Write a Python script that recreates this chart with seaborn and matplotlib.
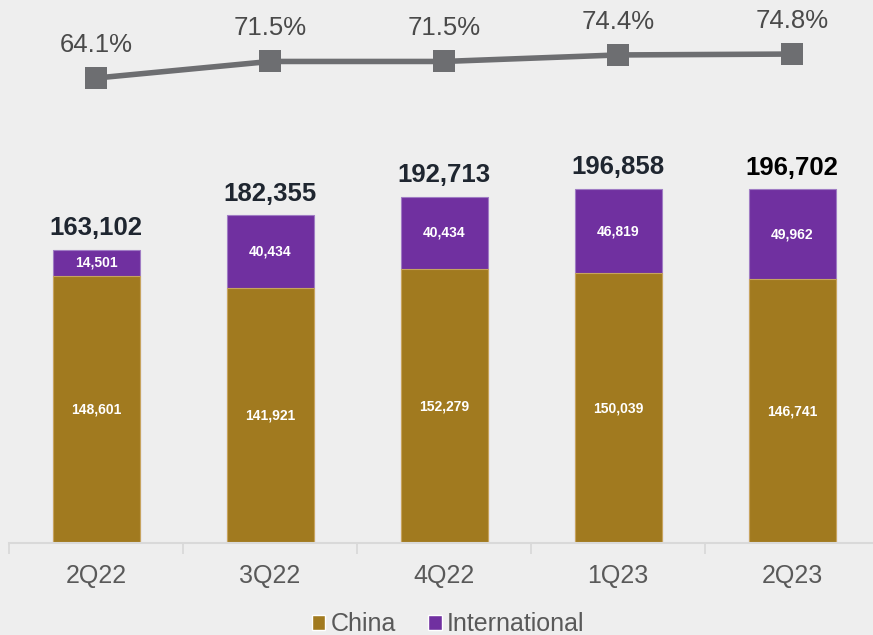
import numpy as np
import pandas as pd
import matplotlib
matplotlib.use("Agg")
import matplotlib.pyplot as plt
from matplotlib.patches import Patch
import seaborn as sns

# Quarterly revenue split (RMB thousand) and margin line
quarters = ["2Q22", "3Q22", "4Q22", "1Q23", "2Q23"]
china = [148601, 141921, 152279, 150039, 146741]
international = [14501, 40434, 40434, 46819, 49962]
totals = [163102, 182355, 192713, 196858, 196702]
margin_pct = [64.1, 71.5, 71.5, 74.4, 74.8]

GOLD = "#A17A1F"
PURPLE = "#7030A0"
LINE_GREY = "#6D6E71"
BG = "#EEEEEE"

sns.set_theme(style="white")
plt.rcParams["font.family"] = ["Liberation Sans", "DejaVu Sans"]

df = pd.DataFrame({"quarter": quarters, "china": china,
                   "international": international, "total": totals})

fig = plt.figure(figsize=(8.73, 6.35), dpi=100, facecolor=BG)
ax = fig.add_axes([9 / 873, 1 - 543 / 635, 870 / 873, 543 / 635])
ax.set_facecolor(BG)

# Stacked bars: full height in purple, China portion drawn over it in gold
sns.barplot(data=df, x="quarter", y="total", color=PURPLE, width=0.5,
            saturation=1, edgecolor="#A07CC4", linewidth=0.8, ax=ax)
sns.barplot(data=df, x="quarter", y="china", color=GOLD, width=0.5,
            saturation=1, edgecolor="#C7A45E", linewidth=0.8, ax=ax)

ax.set_ylim(0, 302100)
ax.set_xlim(-0.5, 4.5)
ax.set_xlabel("")
ax.set_ylabel("")
ax.set_yticks([])
for side in ["top", "right", "left"]:
    ax.spines[side].set_visible(False)
ax.spines["bottom"].set_color("#D9D9D9")
ax.spines["bottom"].set_linewidth(1.5)

ax.set_xticks(range(len(quarters)))
ax.set_xticklabels(quarters)
ax.tick_params(axis="x", which="major", bottom=True, length=0, pad=15,
               labelsize=18, labelcolor="#595959")
ax.set_xticks(np.arange(-0.5, len(quarters)), minor=True)
ax.tick_params(axis="x", which="minor", bottom=True, length=8, width=1.3,
               color="#D9D9D9", direction="out")

# Segment and total labels
for i in range(len(quarters)):
    ax.text(i, china[i] / 2, f"{china[i]:,}", ha="center", va="center",
            color="white", fontsize=10, fontweight="bold")
    ax.text(i, china[i] + international[i] / 2, f"{international[i]:,}",
            ha="center", va="center", color="white", fontsize=10,
            fontweight="bold")
    ax.annotate(f"{totals[i]:,}", xy=(i, china[i] + international[i]),
                xytext=(0, 7), textcoords="offset points", ha="center",
                va="bottom", fontsize=18.5, fontweight="bold",
                color="#000000" if i == len(quarters) - 1 else "#1F2630")

# Margin line on its own scale
ax2 = ax.twinx()
ax2.set_ylim(-143.2, 98.9)
sns.lineplot(x=np.arange(len(quarters)), y=margin_pct, color=LINE_GREY,
             linewidth=4, marker="s", markersize=16, markeredgewidth=0,
             ax=ax2)
ax2.set_yticks([])
for side in ["top", "right", "left", "bottom"]:
    ax2.spines[side].set_visible(False)
for i, p in enumerate(margin_pct):
    ax2.annotate(f"{p}%", xy=(i, p), xytext=(0, 24), textcoords="offset points",
                 ha="center", va="center", fontsize=18.5, color="#4A4A4A")
ax2.set_xlim(-0.5, 4.5)

handles = [Patch(facecolor=GOLD, label="China"),
           Patch(facecolor=PURPLE, label="International")]
fig.legend(handles=handles, loc="center", bbox_to_anchor=(448 / 873, 1 - 624 / 635),
           ncol=2, frameon=False, fontsize=18, labelcolor="#595959",
           handlelength=0.55, handleheight=0.55, handletextpad=0.2,
           columnspacing=1.3, borderpad=0)

fig.savefig("out.png", dpi=100, facecolor=BG)
